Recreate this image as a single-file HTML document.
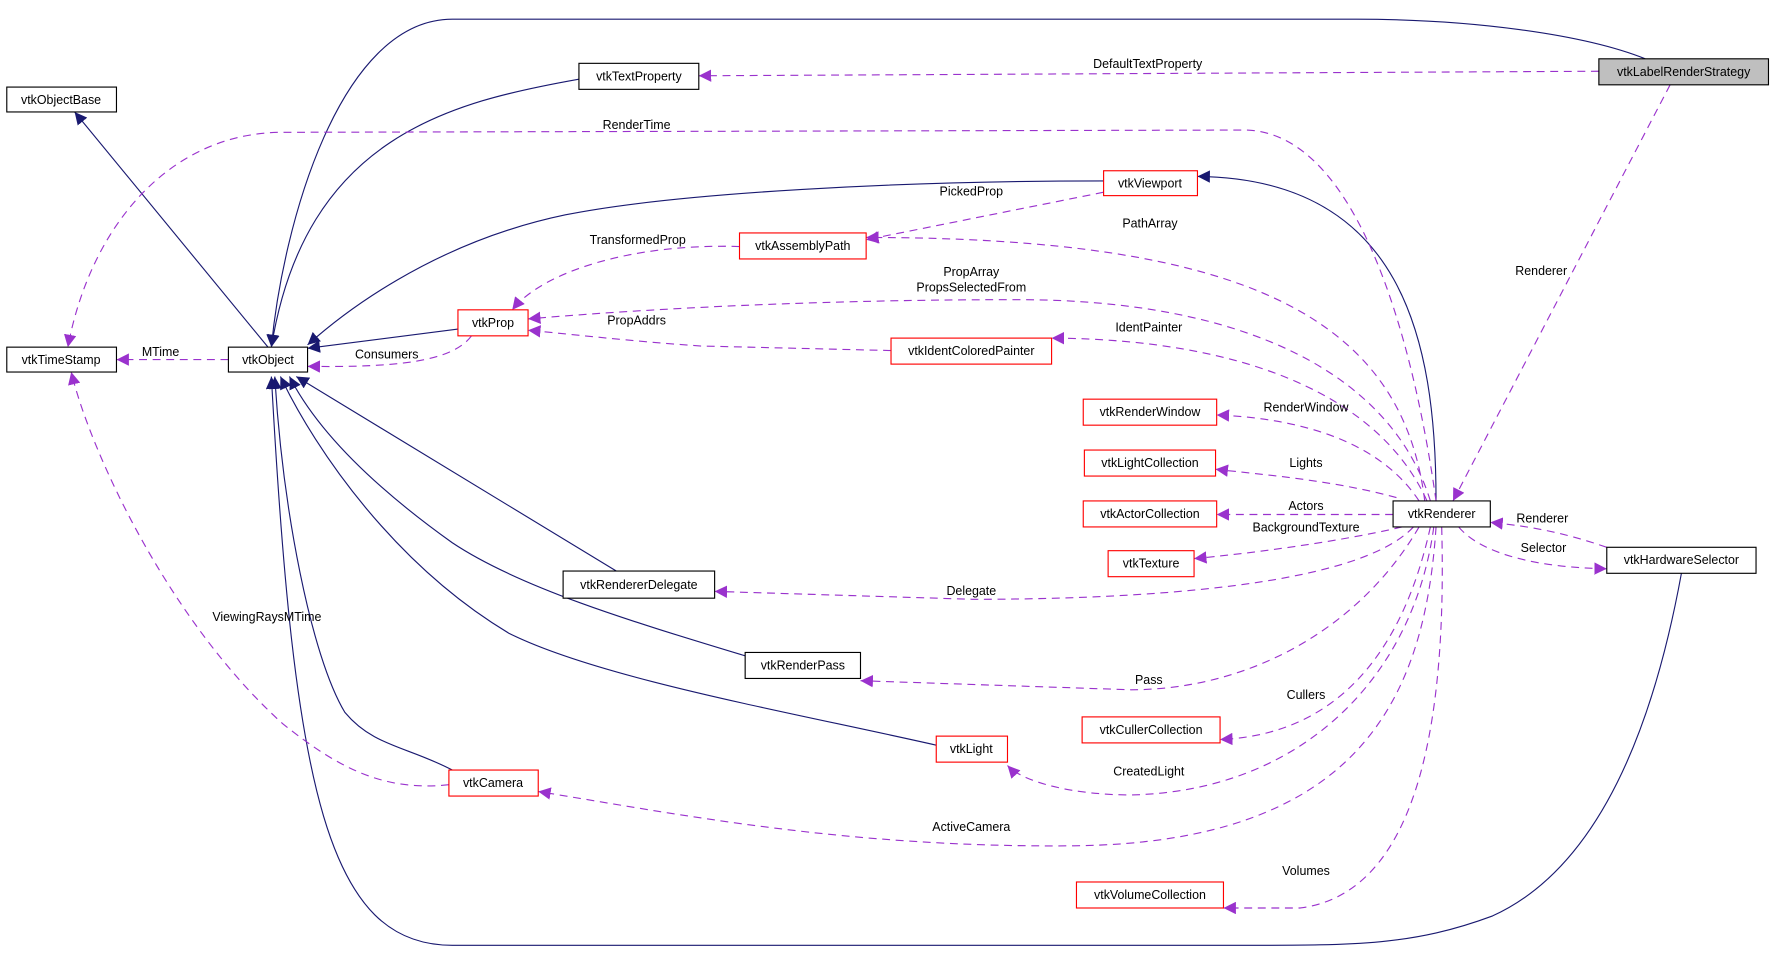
<!DOCTYPE html>
<html><head><meta charset="utf-8"><style>
html,body{margin:0;padding:0;background:#fff;}
svg{display:block;}
text{font-family:"Liberation Sans",sans-serif;font-size:11px;fill:#000;}
.n{fill:#fff;stroke:#000;stroke-width:1;}
.r{fill:#fff;stroke:#ff0000;stroke-width:1;}
.s{fill:none;stroke:#191970;stroke-width:1;}
.d{fill:none;stroke:#9a32cd;stroke-width:1;stroke-dasharray:7,5;}
</style></head><body>
<svg width="1773" height="965" viewBox="0 0 1568 853.4" xmlns="http://www.w3.org/2000/svg">
<defs>
<marker id="an" viewBox="0 0 10 10" refX="10" refY="5" markerWidth="11" markerHeight="11" markerUnits="userSpaceOnUse" orient="auto"><path d="M0,0 L10,5 L0,10 z" fill="#191970"/></marker>
<marker id="ap" viewBox="0 0 10 10" refX="10" refY="5" markerWidth="11" markerHeight="11" markerUnits="userSpaceOnUse" orient="auto"><path d="M0,0 L10,5 L0,10 z" fill="#9a32cd"/></marker>
</defs>
<path class="s" marker-end="url(#an)" d="M237,307 L66,99"/>
<path class="s" marker-end="url(#an)" d="M512,70 C400,90 270,120 240,307"/>
<path class="s" marker-end="url(#an)" d="M1455,52 C1400,30 1300,17 1200,17 L400,17 C300,17 250,200 240,307"/>
<path class="s" marker-end="url(#an)" d="M976,160 C800,160 600,170 500,190 C380,215 300,280 272,305"/>
<path class="s" marker-end="url(#an)" d="M405,291 L272,308"/>
<path class="s" marker-end="url(#an)" d="M1270,443 C1270,300 1240,158 1059,156"/>
<path class="s" marker-end="url(#an)" d="M545,505 L262,333"/>
<path class="s" marker-end="url(#an)" d="M659,580 C560,550 460,520 400,480 C330,430 280,380 256,333"/>
<path class="s" marker-end="url(#an)" d="M828,659 C700,630 530,600 450,560 C350,500 280,400 248,333"/>
<path class="s" marker-end="url(#an)" d="M400,681 C360,660 330,660 305,630 C275,580 250,450 243,333"/>
<path class="s" marker-end="url(#an)" d="M1487,507 C1470,600 1430,760 1320,810 C1250,836 1200,836 1100,836 L400,836 C290,836 260,700 240,333"/>
<path class="d" marker-end="url(#ap)" d="M1414,63 L618,67"/>
<path class="d" marker-end="url(#ap)" d="M1477,75 L1285,443"/>
<path class="d" marker-end="url(#ap)" d="M1270,443 C1250,300 1200,115 1100,115 L250,117 C150,117 80,200 60,307"/>
<path class="d" marker-end="url(#ap)" d="M202,318 L103,318"/>
<path class="d" marker-end="url(#ap)" d="M397,694 C340,700 300,680 250,640 C150,550 80,400 63,329"/>
<path class="d" marker-end="url(#ap)" d="M976,170 L766,212"/>
<path class="d" marker-end="url(#ap)" d="M1260,443 C1240,280 1100,210 766,210"/>
<path class="d" marker-end="url(#ap)" d="M654,218 C560,215 480,240 453,274"/>
<path class="d" marker-end="url(#ap)" d="M1265,443 C1230,330 1100,265 900,265 C700,265 550,275 467,282"/>
<path class="d" marker-end="url(#ap)" d="M788,310 L620,306 C560,302 500,295 467,292"/>
<path class="d" marker-end="url(#ap)" d="M417,297 C400,320 350,325 272,324"/>
<path class="d" marker-end="url(#ap)" d="M1262,443 C1220,350 1100,300 930,299"/>
<path class="d" marker-end="url(#ap)" d="M1255,443 C1220,390 1150,370 1076,367"/>
<path class="d" marker-end="url(#ap)" d="M1235,440 C1180,425 1120,420 1075,415"/>
<path class="d" marker-end="url(#ap)" d="M1232,455 L1076,455"/>
<path class="d" marker-end="url(#ap)" d="M1240,466 C1180,480 1100,490 1056,494"/>
<path class="d" marker-end="url(#ap)" d="M1250,466 C1200,520 1000,530 860,530 L632,523"/>
<path class="d" marker-end="url(#ap)" d="M1255,466 C1200,560 1100,610 1000,610 L761,602"/>
<path class="d" marker-end="url(#ap)" d="M1265,466 C1240,580 1180,650 1079,654"/>
<path class="d" marker-end="url(#ap)" d="M1268,466 C1250,600 1150,700 1000,703 C950,703 905,692 891,677"/>
<path class="d" marker-end="url(#ap)" d="M1270,466 C1260,620 1200,745 950,748 C750,750 600,720 476,700"/>
<path class="d" marker-end="url(#ap)" d="M1275,466 C1280,650 1250,790 1150,803 L1082,803"/>
<path class="d" marker-end="url(#ap)" d="M1290,466 C1310,490 1360,502 1421,503"/>
<path class="d" marker-end="url(#ap)" d="M1421,484 C1380,470 1350,465 1318,462"/>
<g text-anchor="middle">
<text x="1015" y="60">DefaultTextProperty</text>
<text x="1363" y="243">Renderer</text>
<text x="563" y="114">RenderTime</text>
<text x="142" y="315">MTime</text>
<text x="236" y="549">ViewingRaysMTime</text>
<text x="859" y="173">PickedProp</text>
<text x="1017" y="201">PathArray</text>
<text x="564" y="216">TransformedProp</text>
<text x="859" y="244">PropArray</text>
<text x="859" y="258">PropsSelectedFrom</text>
<text x="563" y="287">PropAddrs</text>
<text x="342" y="317">Consumers</text>
<text x="1016" y="293">IdentPainter</text>
<text x="1155" y="364">RenderWindow</text>
<text x="1155" y="413">Lights</text>
<text x="1155" y="451">Actors</text>
<text x="1155" y="470">BackgroundTexture</text>
<text x="859" y="526">Delegate</text>
<text x="1016" y="605">Pass</text>
<text x="1155" y="618">Cullers</text>
<text x="1016" y="686">CreatedLight</text>
<text x="859" y="735">ActiveCamera</text>
<text x="1155" y="774">Volumes</text>
<text x="1365" y="488">Selector</text>
<text x="1364" y="462">Renderer</text>
</g>
<rect x="1414" y="52" width="150" height="23" fill="#bfbfbf" stroke="#000"/>
<rect class="n" x="512" y="56" width="106" height="23"/>
<rect class="n" x="6" y="77" width="97" height="22"/>
<rect class="n" x="6" y="307" width="97" height="22"/>
<rect class="n" x="202" y="307" width="70" height="22"/>
<rect class="r" x="976" y="151" width="83" height="22"/>
<rect class="r" x="654" y="206" width="112" height="23"/>
<rect class="r" x="405" y="274" width="62" height="23"/>
<rect class="r" x="788" y="299" width="142" height="23"/>
<rect class="r" x="958" y="353" width="118" height="23"/>
<rect class="r" x="959" y="398" width="116" height="23"/>
<rect class="r" x="958" y="443" width="118" height="23"/>
<rect class="r" x="980" y="487" width="76" height="23"/>
<rect class="n" x="1232" y="443" width="86" height="23"/>
<rect class="n" x="1421" y="484" width="132" height="23"/>
<rect class="n" x="498" y="505" width="134" height="24"/>
<rect class="n" x="659" y="577" width="102" height="23"/>
<rect class="r" x="957" y="634" width="122" height="23"/>
<rect class="r" x="828" y="651" width="63" height="23"/>
<rect class="r" x="397" y="681" width="79" height="23"/>
<rect class="r" x="952" y="780" width="130" height="23"/>
<g text-anchor="middle">
<text x="1489" y="67">vtkLabelRenderStrategy</text>
<text x="565" y="71">vtkTextProperty</text>
<text x="54" y="92">vtkObjectBase</text>
<text x="54" y="322">vtkTimeStamp</text>
<text x="237" y="322">vtkObject</text>
<text x="1017" y="166">vtkViewport</text>
<text x="710" y="221">vtkAssemblyPath</text>
<text x="436" y="289">vtkProp</text>
<text x="859" y="314">vtkIdentColoredPainter</text>
<text x="1017" y="368">vtkRenderWindow</text>
<text x="1017" y="413">vtkLightCollection</text>
<text x="1017" y="458">vtkActorCollection</text>
<text x="1018" y="502">vtkTexture</text>
<text x="1275" y="458">vtkRenderer</text>
<text x="1487" y="499">vtkHardwareSelector</text>
<text x="565" y="521">vtkRendererDelegate</text>
<text x="710" y="592">vtkRenderPass</text>
<text x="1018" y="649">vtkCullerCollection</text>
<text x="859" y="666">vtkLight</text>
<text x="436" y="696">vtkCamera</text>
<text x="1017" y="795">vtkVolumeCollection</text>
</g>
</svg>
</body></html>
